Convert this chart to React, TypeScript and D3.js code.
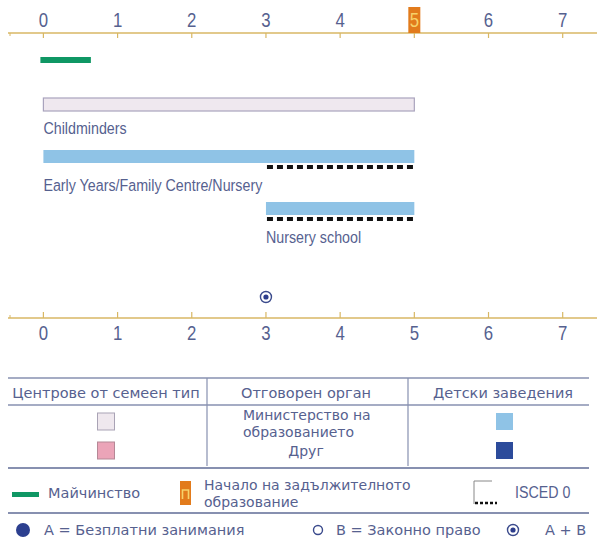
import React from "react";
import * as d3 from "d3";

// ---------- data ----------
const ageTicks = [0, 1, 2, 3, 4, 5, 6, 7];
const compulsoryAge = 5;
const maternityRange = [0, 0.64];

const settingNames = ["Childminders", "Early Years/Family Centre/Nursery", "Nursery school"];
const settingStart = [0, 0, 3];
const settingEnd = [5, 5, 5];
const settingKind = ["home", "centre", "centre"];
const iscedStart = [null, 3, 3];
const iscedEnd = [null, 5, 5];

const entitlementAges = [3];
const entitlementTypes = ["AB"];

const tableHeaders = ["Центрове от семеен тип", "Отговорен орган", "Детски заведения"];
const authorityLabels = ["Министерство на", "образованието", "Друг"];
const legendLabels = ["Майчинство", "Начало на задължителното", "образование", "ISCED 0"];
const accessLabels = ["A = Безплатни занимания", "B = Законно право", "A + B"];

// ---------- styles ----------
const AXIS = "#d8b764";
const TXT = "#56618f";
const LINE = "#8790b0";
const ARIAL = "'Liberation Sans', Arial, sans-serif";
const SANS = "'DejaVu Sans', Verdana, sans-serif";
const kindFill: Record<string, string> = { home: "#efe8ef", centre: "#8fc3e6" };
const kindStroke: Record<string, string> = { home: "#a9a3bd", centre: "none" };

function Narrow(props: {
  x: number; y: number; size: number; fill?: string; anchor?: string; children: React.ReactNode;
}) {
  return (
    <text
      transform={`translate(${props.x},${props.y}) scale(0.84,1)`}
      textAnchor={props.anchor || "start"}
      fontFamily={ARIAL}
      fontSize={props.size}
      fill={props.fill || TXT}
    >
      {props.children}
    </text>
  );
}

export default function App() {
  const W = 597, H = 542;
  const x = d3.scaleLinear().domain([0, 7]).range([43.4, 562.7]);
  const rowY = d3.scalePoint<string>().domain(settingNames).range([98, 202]);
  const topY = 33;
  const botY = 318;
  const barH = 13;

  const axis = (y: number, up: boolean, labelY: number) => (
    <g>
      <line x1={8} x2={W} y1={y} y2={y} stroke={AXIS} strokeWidth={1.6} />
      <line x1={10} x2={10} y1={y} y2={up ? y - 3 : y + 3} stroke={AXIS} strokeWidth={1} />
      {ageTicks.map((t) => (
        <g key={t}>
          <line x1={x(t)} x2={x(t)} y1={y} y2={up ? y - 6 : y + 5} stroke={AXIS} strokeWidth={1.2} />
          {!up && t === compulsoryAge ? (
            <rect x={x(t) - 6} y={y - 26} width={12} height={26} fill="#e27b1c" />
          ) : null}
          <Narrow
            x={x(t)}
            y={labelY}
            anchor="middle"
            size={20}
            fill={!up && t === compulsoryAge ? "#f6d26a" : TXT}
          >
            {t}
          </Narrow>
        </g>
      ))}
    </g>
  );

  return (
    <svg
      width={W}
      height={H}
      style={{ position: "absolute", left: 0, top: 0, background: "#fff" }}
    >
      {axis(topY, false, 27)}
      {axis(botY, true, 340)}

      {/* maternity */}
      <rect
        x={x(maternityRange[0]) - 3}
        y={57}
        width={x(maternityRange[1]) - x(maternityRange[0]) + 3}
        height={6}
        fill="#0f9764"
      />

      {/* settings */}
      {settingNames.map((n, i) => {
        const y0 = rowY(n)!;
        const hasIsced = iscedStart[i] != null;
        return (
          <g key={n}>
            <rect
              x={x(settingStart[i])}
              y={y0}
              width={x(settingEnd[i]) - x(settingStart[i])}
              height={barH}
              fill={kindFill[settingKind[i]]}
              stroke={kindStroke[settingKind[i]]}
              strokeWidth={1.2}
            />
            {hasIsced ? (
              <line
                x1={x(iscedStart[i] as number) + 1}
                x2={x(iscedEnd[i] as number)}
                y1={y0 + barH + 4}
                y2={y0 + barH + 4}
                stroke="#111"
                strokeWidth={4}
                strokeDasharray="6 4"
              />
            ) : null}
            <Narrow x={x(settingStart[i])} y={y0 + (hasIsced ? 41 : 36)} size={17}>
              {n}
            </Narrow>
          </g>
        );
      })}

      {/* entitlement markers */}
      {entitlementAges.map((a, i) => (
        <g key={a}>
          <circle cx={x(a)} cy={297} r={5.5} fill="#fff" stroke="#3a4a8c" strokeWidth={1.4} />
          {entitlementTypes[i] === "AB" ? <circle cx={x(a)} cy={297} r={2.6} fill="#2d3d8c" /> : null}
        </g>
      ))}

      {/* table */}
      <g fontFamily={SANS} fontSize={14.5} fill={TXT}>
        <line x1={8} x2={589} y1={378} y2={378} stroke={LINE} strokeWidth={1.5} />
        <line x1={8} x2={589} y1={405} y2={405} stroke={LINE} strokeWidth={1.5} />
        <line x1={207} x2={207} y1={378} y2={466} stroke={LINE} strokeWidth={1.2} />
        <line x1={408} x2={408} y1={378} y2={466} stroke={LINE} strokeWidth={1.2} />
        <text x={106} y={398} textAnchor="middle">{tableHeaders[0]}</text>
        <text x={306} y={398} textAnchor="middle">{tableHeaders[1]}</text>
        <text x={503} y={398} textAnchor="middle">{tableHeaders[2]}</text>

        <rect x={97.5} y={413} width={17} height={17} fill="#efe8ee" stroke="#a9a3b5" strokeWidth={1} />
        <rect x={97.5} y={442} width={17} height={17} fill="#eba4b8" stroke="#b58896" strokeWidth={1} />
        <rect x={496} y={413} width={17} height={17} fill="#8fc3e6" />
        <rect x={496} y={442} width={17} height={17} fill="#2c4b9b" />

        <text x={243} y={420} fontSize={14}>{authorityLabels[0]}</text>
        <text x={243} y={437} fontSize={14}>{authorityLabels[1]}</text>
        <text x={306} y={456} textAnchor="middle" fontSize={14}>{authorityLabels[2]}</text>

        <line x1={8} x2={589} y1={468} y2={468} stroke={LINE} strokeWidth={2} />

        {/* legend row */}
        <rect x={12} y={492} width={27} height={5} fill="#0f9764" />
        <text x={48} y={498}>{legendLabels[0]}</text>
        <rect x={180} y={481} width={11} height={24} fill="#e27b1c" />
        <path d="M182.5 499 V490 H188.5 V499" fill="none" stroke="#f6d26a" strokeWidth={1.6} />
        <text x={204} y={490} fontSize={14}>{legendLabels[1]}</text>
        <text x={204} y={507} fontSize={14}>{legendLabels[2]}</text>
        <line x1={474} x2={492} y1={481} y2={481} stroke="#888" strokeWidth={1} />
        <line x1={474} x2={474} y1={481} y2={504} stroke="#888" strokeWidth={1} />
        <line x1={475} x2={497} y1={503} y2={503} stroke="#111" strokeWidth={2.5} strokeDasharray="3 2" />
        <Narrow x={515} y={498} size={17}>{legendLabels[3]}</Narrow>

        <line x1={8} x2={589} y1={513} y2={513} stroke={LINE} strokeWidth={2} />

        {/* access row */}
        <circle cx={23} cy={530} r={7} fill="#2c3f8f" />
        <text x={44} y={535}>{accessLabels[0]}</text>
        <circle cx={318} cy={530} r={4.5} fill="#fff" stroke="#3a4a8c" strokeWidth={1.4} />
        <text x={336} y={535}>{accessLabels[1]}</text>
        <circle cx={513} cy={530} r={5.5} fill="#fff" stroke="#3a4a8c" strokeWidth={1.4} />
        <circle cx={513} cy={530} r={2.6} fill="#2d3d8c" />
        <text x={545} y={535}>{accessLabels[2]}</text>
      </g>
    </svg>
  );
}
